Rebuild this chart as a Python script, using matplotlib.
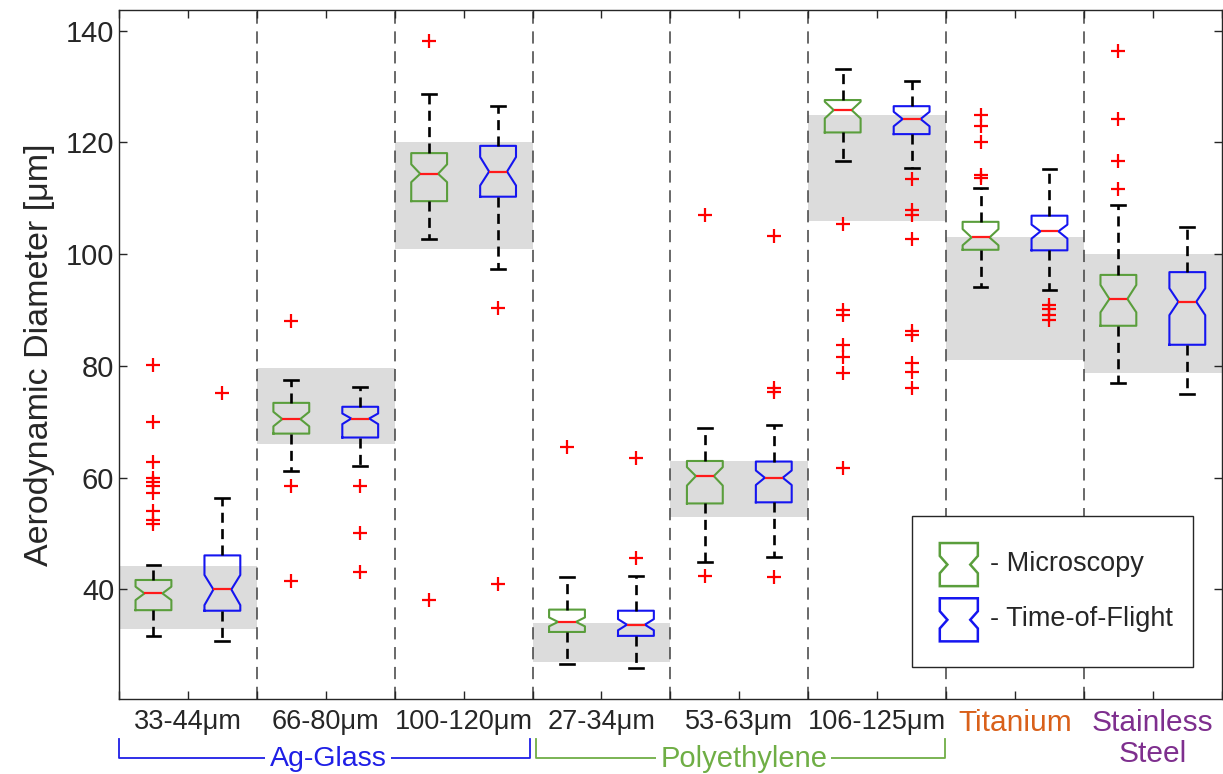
import matplotlib
matplotlib.use("Agg")
import matplotlib.pyplot as plt
from matplotlib.patches import Rectangle, Polygon
from matplotlib.lines import Line2D
import matplotlib.transforms as mtransforms

plt.rcParams['font.family'] = ['Liberation Sans', 'DejaVu Sans']

# ---- data -------------------------------------------------------------
size_labels = ["33-44μm", "66-80μm", "100-120μm", "27-34μm", "53-63μm",
               "106-125μm", "Titanium", "Stainless\nSteel"]
label_colors = ["#262626"] * 6 + ["#d9601a", "#7e2f8e"]
label_sizes = [19.5] * 6 + [21.5, 21.5]

# nominal sieve ranges (shaded bands)
range_lo = [33, 66, 101, 27, 53, 106, 81, 78.7]
range_hi = [44.2, 79.6, 120, 34, 63, 125, 103, 100]

# Microscopy
mic_med = [39.3, 70.5, 114.4, 34.2, 60.3, 125.8, 103.0, 92.0]
mic_q1 = [36.3, 67.9, 109.5, 32.4, 55.4, 121.8, 100.8, 87.2]
mic_q3 = [41.7, 73.4, 118.1, 36.4, 63.0, 127.6, 105.8, 96.3]
mic_lo = [31.6, 61.2, 102.8, 26.7, 44.9, 116.6, 94.1, 76.9]
mic_hi = [44.4, 77.5, 128.6, 42.3, 68.9, 133.2, 111.8, 108.9]
mic_ci_lo = [38.1, 69.2, 112.9, 33.4, 58.6, 124.3, 101.6, 89.6]
mic_ci_hi = [40.5, 71.8, 116.1, 35.0, 61.9, 127.3, 104.5, 94.5]
mic_fliers = [
    [80.2, 70.0, 62.8, 59.9, 59.2, 58.5, 57.3, 54.1, 52.4, 51.8],
    [88.1, 58.5, 41.5],
    [138.2, 38.2],
    [65.5],
    [107.0, 42.4],
    [105.4, 90.0, 89.1, 83.8, 81.6, 78.8, 61.7],
    [125.0, 123.0, 120.0, 114.2, 113.7],
    [136.3, 124.2, 116.7, 111.7],
]

# Time-of-Flight
tof_med = [40.0, 70.6, 114.8, 33.7, 60.0, 124.2, 104.1, 91.5]
tof_q1 = [36.2, 67.2, 110.3, 31.7, 55.6, 121.5, 100.7, 83.8]
tof_q3 = [46.1, 72.7, 119.4, 36.2, 62.9, 126.5, 106.9, 96.8]
tof_lo = [30.8, 62.1, 97.3, 26.0, 45.8, 115.5, 93.6, 74.9]
tof_hi = [56.3, 76.2, 126.5, 42.5, 69.4, 131.0, 115.3, 104.9]
tof_ci_lo = [37.2, 69.6, 112.3, 32.7, 58.7, 122.9, 102.8, 89.1]
tof_ci_hi = [42.6, 71.5, 117.4, 34.7, 61.3, 125.5, 105.3, 93.9]
tof_fliers = [
    [75.1],
    [58.6, 50.1, 43.2],
    [90.3, 40.9],
    [63.6, 45.7],
    [103.3, 76.0, 75.4, 42.3],
    [113.5, 108.0, 107.1, 102.7, 86.2, 85.6, 80.5, 79.0, 76.1],
    [91.0, 90.2, 89.2, 88.2],
    [],
]

materials = ["Ag-Glass", "Polyethylene"]
material_colors = ["#1f1fe6", "#6fae45"]
material_sizes = [20.5, 21]

GREEN = "#5a9e3c"
BLUE = "#1515f0"


def make_stats(med, q1, q3, lo, hi, cil, cih, fl):
    out = []
    for i in range(len(med)):
        out.append(dict(med=med[i], q1=q1[i], q3=q3[i], whislo=lo[i],
                        whishi=hi[i], cilo=cil[i], cihi=cih[i],
                        fliers=fl[i], mean=med[i]))
    return out


mic_stats = make_stats(mic_med, mic_q1, mic_q3, mic_lo, mic_hi,
                       mic_ci_lo, mic_ci_hi, mic_fliers)
tof_stats = make_stats(tof_med, tof_q1, tof_q3, tof_lo, tof_hi,
                       tof_ci_lo, tof_ci_hi, tof_fliers)

n = len(size_labels)
mic_pos = [2 * i + 1 for i in range(n)]
tof_pos = [2 * i + 2 for i in range(n)]
centers = [2 * i + 1.5 for i in range(n)]

# ---- figure -----------------------------------------------------------
fig = plt.figure(figsize=(12.23, 7.74), dpi=100)
ax = fig.add_axes([0.0973, 0.0969, 0.9017, 0.8908])
ax.set_xlim(0.5, 2 * n + 0.5)
ax.set_ylim(20.4, 143.8)

# shaded nominal ranges
for i in range(n):
    ax.add_patch(Rectangle((2 * i + 0.5, range_lo[i]), 2.0,
                           range_hi[i] - range_lo[i],
                           facecolor="#dcdcdc", edgecolor="none", zorder=0))

# group separators
for i in range(1, n):
    ax.axvline(2 * i + 0.5, color="#404040", lw=1.1,
               linestyle=(0, (8, 5)), zorder=1)

common = dict(widths=0.52, shownotches=True, capwidths=0.2,
              whiskerprops=dict(color="black", lw=1.9, linestyle=(0, (3.8, 2.4))),
              capprops=dict(color="black", lw=1.9),
              medianprops=dict(color="#ff1a1a", lw=1.6),
              flierprops=dict(marker="+", markeredgecolor="#ff0000",
                              markersize=10, markeredgewidth=1.6,
                              linestyle="none"),
              manage_ticks=False, zorder=3)

ax.bxp(mic_stats, positions=mic_pos,
       boxprops=dict(color=GREEN, lw=1.5), **common)
ax.bxp(tof_stats, positions=tof_pos,
       boxprops=dict(color=BLUE, lw=1.5), **common)

# axes styling
for s in ax.spines.values():
    s.set_color("#262626")
    s.set_linewidth(1.0)
ax.set_xticks(centers)
ax.set_xticklabels(size_labels)
for lab, c, fs in zip(ax.get_xticklabels(), label_colors, label_sizes):
    lab.set_color(c)
    lab.set_fontsize(fs)
    lab.set_linespacing(1.15)
ax.set_xticks([2 * i + 0.5 for i in range(n + 1)], minor=True)
ax.set_yticks(range(40, 141, 20))
ax.tick_params(axis="y", labelsize=21, colors="#262626")
ax.tick_params(which="both", direction="in", top=True, right=True,
               length=6, width=1.0, color="#262626")
ax.tick_params(axis="x", pad=7)
for lab in ax.get_yticklabels():
    lab.set_color("#262626")
ax.set_ylabel("Aerodynamic Diameter [μm]", fontsize=24.5, color="#262626",
              labelpad=8)

# material brackets under the size labels
trans = mtransforms.blended_transform_factory(ax.transData, ax.transAxes)
bracket_span = [(0.5, 6.47), (6.55, 12.48)]
y_line, y_end = -0.0856, -0.058
for (x0, x1), name, col, fs in zip(bracket_span, materials, material_colors,
                                   material_sizes):
    ax.add_line(Line2D([x0, x0, x1, x1], [y_end, y_line, y_line, y_end],
                       transform=trans, color=col, lw=1.3, clip_on=False,
                       zorder=2))
    ax.text((x0 + x1) / 2 + 0.05, y_line - 0.002, name, transform=trans,
            ha="center", va="center", fontsize=fs, color=col, zorder=4,
            bbox=dict(facecolor="white", edgecolor="none", pad=3))

# legend
ax.add_patch(Rectangle((0.7187, 0.0468), 0.255, 0.219, transform=ax.transAxes,
                       facecolor="white", edgecolor="#262626", lw=1.0,
                       zorder=5))


def notch_icon(x0, y0, w, h, color):
    d = 0.2 * w
    pts = [(x0, y0), (x0 + w, y0), (x0 + w, y0 + 0.3 * h),
           (x0 + w - d, y0 + 0.5 * h), (x0 + w, y0 + 0.7 * h),
           (x0 + w, y0 + h), (x0, y0 + h), (x0, y0 + 0.7 * h),
           (x0 + d, y0 + 0.5 * h), (x0, y0 + 0.3 * h)]
    ax.add_patch(Polygon(pts, closed=True, transform=ax.transAxes,
                         facecolor="none", edgecolor=color, lw=1.8,
                         zorder=6))


notch_icon(0.7443, 0.1637, 0.0345, 0.0625, GREEN)
notch_icon(0.7443, 0.0836, 0.0345, 0.0625, BLUE)
ax.text(0.7897, 0.1965, "- Microscopy", transform=ax.transAxes, fontsize=19.5,
        va="center", ha="left", color="#262626", zorder=6)
ax.text(0.7897, 0.1165, "- Time-of-Flight", transform=ax.transAxes,
        fontsize=19.5, va="center", ha="left", color="#262626", zorder=6)

fig.savefig("out.png", dpi=100)
